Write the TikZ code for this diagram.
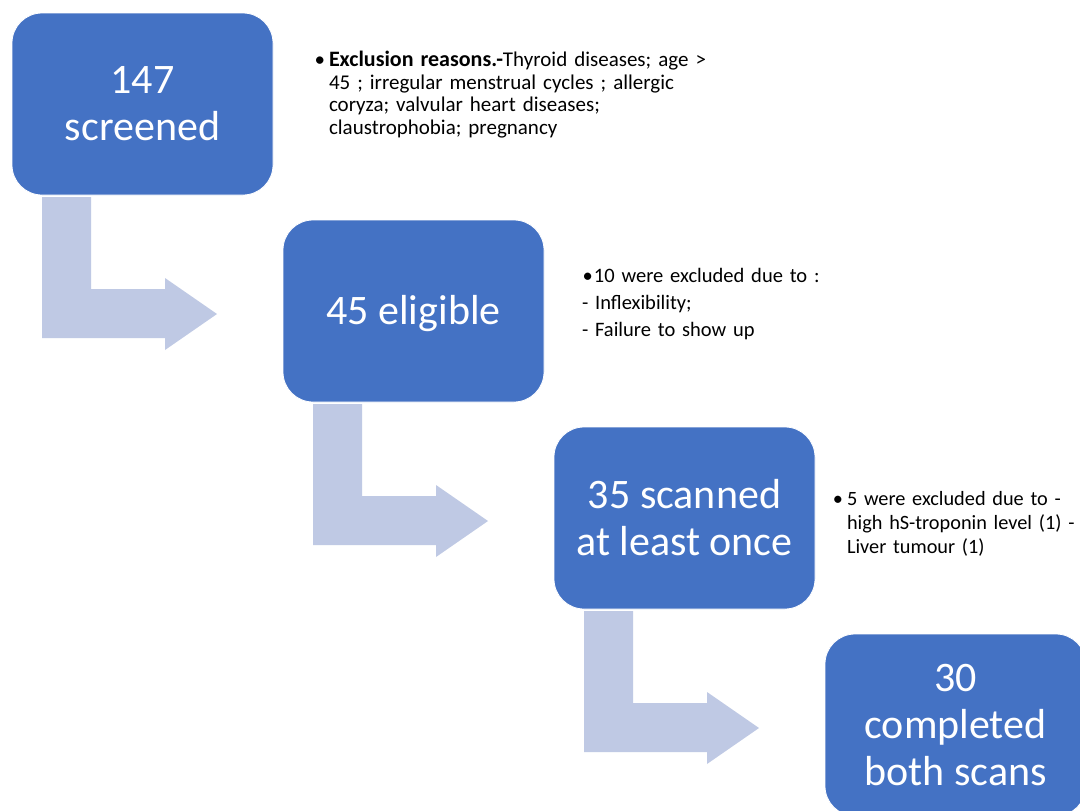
\documentclass[tikz,border=0pt]{standalone}
\usepackage{fontspec}
\setmainfont{Carlito}
\usetikzlibrary{calc}
\definecolor{boxblue}{HTML}{4472C4}
\definecolor{arrowblue}{HTML}{BFC9E4}
\newcommand{\bentarrow}[1]{%
  \fill[arrowblue] ($(#1.south west)+(30,2)$) -- ++(49,0) -- ++(0,92) -- ++(74,0)
    -- ++(0,-11) -- ++(52,36) -- ++(-52,36) -- ++(0,-12) -- ++(-123,0) -- cycle;}
\begin{document}
\begin{tikzpicture}[x=1pt,y=-1pt,
  box/.style={fill=boxblue, draw=white, line width=0.8pt, rounded corners=30pt,
    minimum width=261pt, minimum height=182pt, inner sep=0pt, outer sep=0pt,
    text=white, align=center, font=\fontsize{42}{47}\selectfont},
  notea/.style={anchor=base west, inner sep=0pt, outer sep=0pt, align=left,
    text width=420pt, font=\fontsize{21}{23}\selectfont},
  noteb/.style={anchor=base west, inner sep=0pt, outer sep=0pt, align=left,
    text width=300pt, font=\fontsize{20.5}{27}\selectfont},
  notec/.style={anchor=base west, inner sep=0pt, outer sep=0pt, align=left,
    text width=300pt, font=\fontsize{20.3}{24}\selectfont}]
\useasboundingbox (0,0) rectangle (1080,811);
\clip (0,0) rectangle (1080,811);
\fill[white] (0,0) rectangle (1080,811);

\node[box] (b1) at (142.5,104) {147\\screened};
\node[box, text height=27pt, text depth=0pt] (b2) at (413.5,311) {45 eligible};
\node[box] (b3) at (684.5,518) {35 scanned\\at least once};
\node[box] (b4) at (955.5,725) {30\\completed\\both scans};

\bentarrow{b1}
\bentarrow{b2}
\bentarrow{b3}

\node[notea] (t1) at (329,66) {\llap{•\kern4pt}{\fontsize{22}{23}\selectfont\textbf{Exclusion reasons.-}}Thyroid diseases; age >\\
45 ; irregular menstrual cycles ; allergic\\
coryza; valvular heart diseases;\\
claustrophobia; pregnancy};
\node[noteb] (t2) at (582,282) {\makebox[12pt][l]{\kern0.5pt•}10 were excluded due to :\\
- Inflexibility;\\
- Failure to show up};
\node[notec] (t3) at (847,505) {\llap{•\kern4pt}5 were excluded due to -\\
high hS-troponin level (1) -\\
Liver tumour (1)};
\end{tikzpicture}
\end{document}
